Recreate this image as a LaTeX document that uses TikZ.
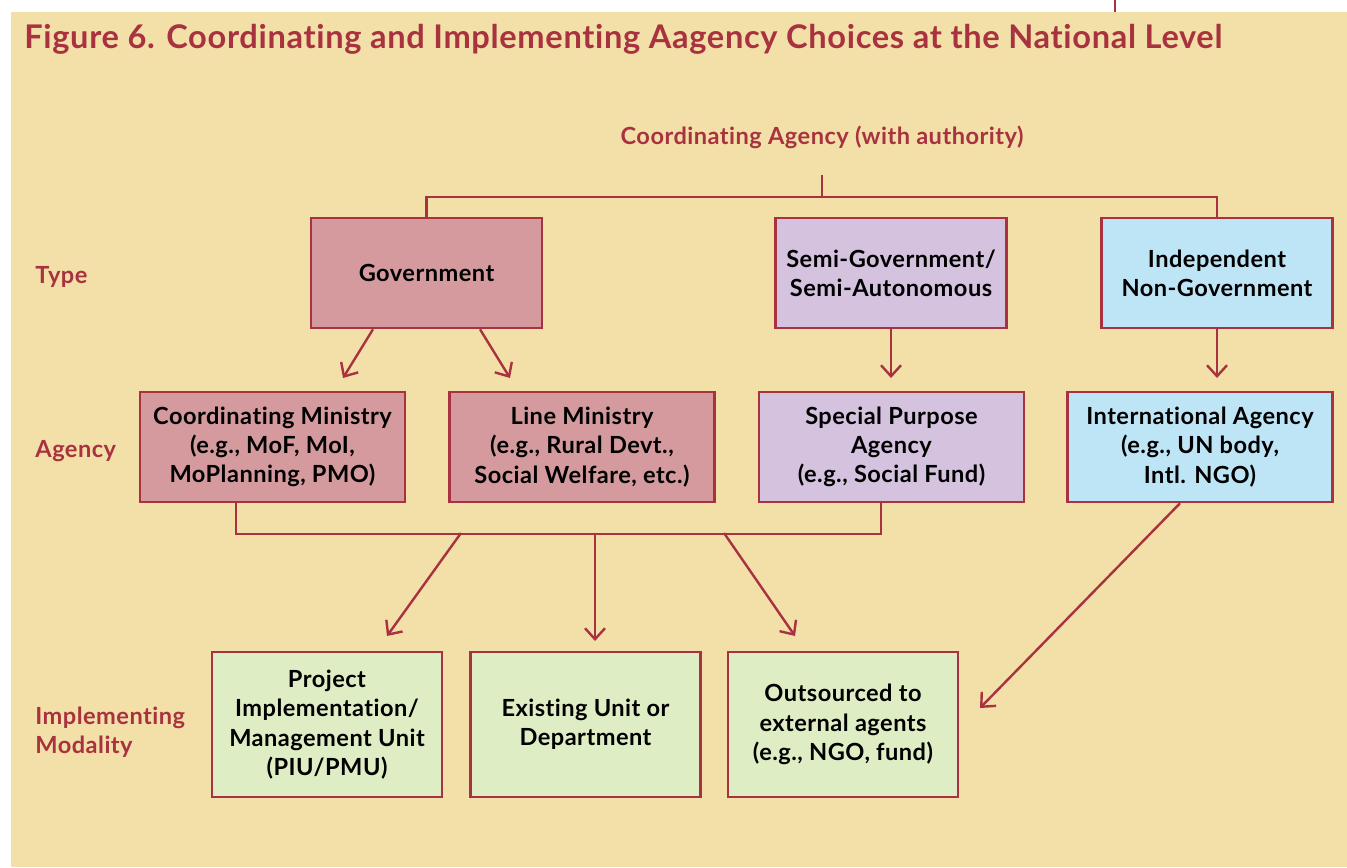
\documentclass[tikz,border=0pt]{standalone}
\usepackage{fontspec}
\setmainfont{Lato}[LetterSpace=2, Ligatures={NoCommon}]
\usetikzlibrary{arrows.meta,calc}

\definecolor{sand}{HTML}{F3E0A8}
\definecolor{wine}{HTML}{A8323F}
\definecolor{govpink}{HTML}{D49A9E}
\definecolor{semililac}{HTML}{D4C2DF}
\definecolor{indepblue}{HTML}{BEE5F6}
\definecolor{modgreen}{HTML}{DFEDC5}

\newcommand{\boxfont}{\fontsize{11.8}{14.6}\selectfont\bfseries}
\newcommand{\titlefont}{\fontsize{16.3}{19}\selectfont\bfseries}

\tikzset{
    box/.style={draw=wine, line width=1.25pt, align=center, font=\boxfont, inner sep=2pt},
    typebox/.style={box, minimum width=115.5pt, minimum height=55pt},
    agencybox/.style={box, minimum width=132.5pt, minimum height=55pt},
    modbox/.style={box, fill=modgreen, minimum width=115pt, minimum height=72.5pt},
    link/.style={draw=wine, line width=1.2pt},
    arr/.style={link, -{Straight Barb[length=5.5pt,width=10pt,line width=1.2pt]}},
    rowlabel/.style={text=wine, font=\boxfont, anchor=west, align=left, inner sep=0pt}
}

\begin{document}
\begin{tikzpicture}[x=0.5pt,y=-0.5pt]
    \useasboundingbox (0,0) rectangle (1347,867);
    \fill[sand] (11,12) rectangle (1347,867);
    \draw[wine, line width=1pt] (1115,0) -- (1115,12);

    % title and row labels
    \node[text=wine, font=\titlefont, anchor=base west, inner sep=0pt] (title) at (24,48)
        {Figure 6. Coordinating and Implementing Aagency Choices at the National Level};
    \node[rowlabel] (ltype) at (35,277) {Type};
    \node[rowlabel] (lagency) at (35,451) {Agency};
    \node[rowlabel] (lmod) at (35,732) {Implementing\\Modality};

    % top
    \node[text=wine, font=\boxfont, inner sep=0pt] (coord) at (822,137) {Coordinating Agency (with authority)};

    % type row
    \node[typebox, fill=govpink] (gov) at (426.5,273) {Government};
    \node[typebox, fill=semililac] (semi) at (891,273) {Semi-Government/\\Semi-Autonomous};
    \node[typebox, fill=indepblue] (ind) at (1217,273) {Independent\\Non-Government};

    % agency row
    \node[agencybox, fill=govpink] (cm) at (272.5,447) {Coordinating Ministry\\(e.g., MoF, MoI,\\MoPlanning, PMO)};
    \node[agencybox, fill=govpink] (lm) at (582,447) {Line Ministry\\(e.g., Rural Devt.,\\Social Welfare, etc.)};
    \node[agencybox, fill=semililac] (spa) at (891.5,447) {Special Purpose\\Agency\\(e.g., Social Fund)};
    \node[agencybox, fill=indepblue] (intl) at (1200,447) {International Agency\\(e.g., UN body,\\Intl. NGO)};

    % modality row
    \node[modbox] (piu) at (327,724.5) {Project\\Implementation/\\Management Unit\\(PIU/PMU)};
    \node[modbox] (exist) at (585.5,724.5) {Existing Unit or\\Department};
    \node[modbox] (out) at (843,724.5) {Outsourced to\\external agents\\(e.g., NGO, fund)};

    % tree from coordinating agency
    \draw[link] ([yshift=-13pt]coord.south) -- (822,198);
    \draw[link] (gov.north) -- ++(0,-20) -| (ind.north);

    % type -> agency
    \coordinate (cm-in) at (343,378);
    \coordinate (lm-in) at (510,378);
    \coordinate (spa-in) at (891,378);
    \coordinate (intl-in) at (1217,378);
    \draw[arr] ([xshift=-26.75pt]gov.south) -- (cm-in);
    \draw[arr] ([xshift=26.75pt]gov.south) -- (lm-in);
    \draw[arr] (semi.south) -- (spa-in);
    \draw[arr] (ind.south) -- (intl-in);

    % agency -> modality
    \draw[link] ([xshift=-18.25pt]cm.south) -- ++(0,31) -| ([xshift=-5.25pt]spa.south);
    \coordinate (b1) at (461,533);
    \coordinate (b2) at (595,533);
    \coordinate (b3) at (724,533);
    \coordinate (piu-in) at (387,636);
    \coordinate (exist-in) at (595,641);
    \coordinate (out-in) at (795,636);
    \coordinate (out-side) at (980,708);
    \draw[arr] (b1) -- (piu-in);
    \draw[arr] (b2) -- (exist-in);
    \draw[arr] (b3) -- (out-in);
    \draw[arr] ([xshift=-10pt]intl.south) -- (out-side);
\end{tikzpicture}
\end{document}
